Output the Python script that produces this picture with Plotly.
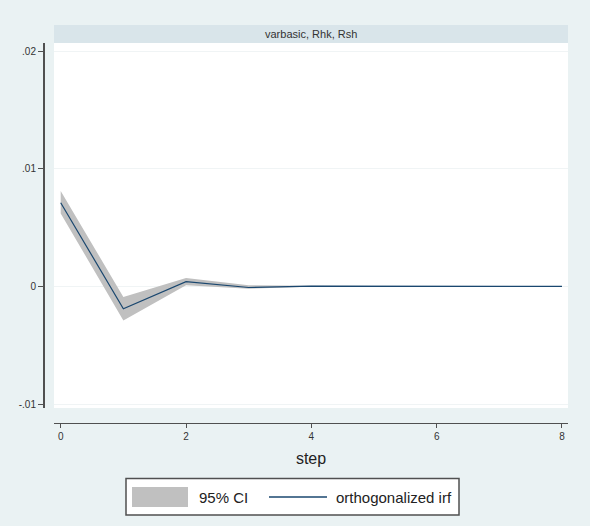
import plotly.graph_objects as go

# ---- data ----
steps = [0, 1, 2, 3, 4, 5, 6, 7, 8]
irf = [0.0071, -0.0019, 0.0004, -0.0001, 0.00002, 0.0, 0.0, 0.0, 0.0]
ci_lower = [0.0062, -0.0029, 0.0001, -0.0002, -0.00003, -0.00001, 0.0, 0.0, 0.0]
ci_upper = [0.0081, -0.0009, 0.0007, 0.0001, 0.00006, 0.00001, 0.0, 0.0, 0.0]
y_tickvals = [-0.01, 0, 0.01, 0.02]
y_ticktext = ["-.01", "0", ".01", ".02"]
x_tickvals = [0, 2, 4, 6, 8]
panel_title = "varbasic, Rhk, Rsh"
legend_labels = ["95% CI", "orthogonalized irf"]

# ---- styling ----
FONT = "Liberation Sans, Arial, Helvetica, sans-serif"
BG = "rgb(234,242,243)"
STRIP = "rgb(217,229,234)"
NAVY = "rgb(26,71,111)"
CI_FILL = "rgb(192,192,192)"
AXIS = "rgb(80,80,80)"

W, H = 590, 526
L, R, T, B = 44, 22, 25, 103
PW, PH = W - L - R, H - T - B


def px(x):
    return (x - L) / PW


def py(y):
    return (H - B - y) / PH


fig = go.Figure()
fig.add_trace(go.Scatter(x=steps, y=ci_lower, mode="lines", line=dict(width=0),
                         showlegend=False, hoverinfo="skip"))
fig.add_trace(go.Scatter(x=steps, y=ci_upper, mode="lines", line=dict(width=0),
                         fill="tonexty", fillcolor=CI_FILL, name=legend_labels[0],
                         showlegend=False))
fig.add_trace(go.Scatter(x=steps, y=irf, mode="lines", line=dict(color=NAVY, width=1.2),
                         name=legend_labels[1], showlegend=False))

shapes = []
# header strip
shapes.append(dict(type="rect", xref="paper", yref="paper", x0=px(54), x1=1,
                   y0=py(43), y1=1, fillcolor=STRIP, line=dict(width=0), layer="below"))
# legend box
shapes.append(dict(type="rect", xref="paper", yref="paper", x0=px(126), x1=px(459),
                   y0=py(515), y1=py(478.5), fillcolor="white",
                   line=dict(color=AXIS, width=1.5)))
shapes.append(dict(type="rect", xref="paper", yref="paper", x0=px(132), x1=px(188),
                   y0=py(507), y1=py(487), fillcolor=CI_FILL, line=dict(width=0)))
shapes.append(dict(type="line", xref="paper", yref="paper", x0=px(269), x1=px(327),
                   y0=py(497), y1=py(497), line=dict(color=NAVY, width=1.5)))

annotations = [
    dict(text=panel_title, xref="paper", yref="paper", x=px(311), y=py(34),
         showarrow=False, font=dict(family=FONT, size=11, color="#333"),
         xanchor="center", yanchor="middle"),
    dict(text=legend_labels[0], xref="paper", yref="paper", x=px(197), y=py(497),
         showarrow=False, font=dict(family=FONT, size=15, color="#222"),
         xanchor="left", yanchor="middle"),
    dict(text=legend_labels[1], xref="paper", yref="paper", x=px(334), y=py(497),
         showarrow=False, font=dict(family=FONT, size=15, color="#222"),
         xanchor="left", yanchor="middle"),
]

fig.update_layout(
    width=W, height=H,
    margin=dict(l=L, r=R, t=T, b=B, pad=0),
    paper_bgcolor=BG, plot_bgcolor="white",
    showlegend=False,
    font=dict(family=FONT, color="#333"),
    shapes=shapes, annotations=annotations,
    xaxis=dict(domain=[px(54), 1], anchor="free", position=0,
               range=[-0.107, 8.096], tickvals=x_tickvals,
               ticks="outside", ticklen=4, tickcolor=AXIS, tickwidth=1,
               showline=True, linecolor=AXIS, linewidth=1.2,
               showgrid=False, zeroline=False,
               tickfont=dict(family=FONT, size=10, color="#333"),
               title=dict(text="step", font=dict(family=FONT, size=16, color="#222"),
                          standoff=11)),
    yaxis=dict(domain=[py(408), py(43)], anchor="free", position=0,
               range=[-0.01034, 0.02068], tickvals=y_tickvals, ticktext=y_ticktext,
               ticks="outside", ticklen=5, tickcolor=AXIS, tickwidth=1,
               showline=True, linecolor=AXIS, linewidth=2,
               showgrid=True, gridcolor="rgb(240,244,245)", gridwidth=1,
               zeroline=False,
               tickfont=dict(family=FONT, size=10, color="#333")),
)

fig.write_html("out.html")
